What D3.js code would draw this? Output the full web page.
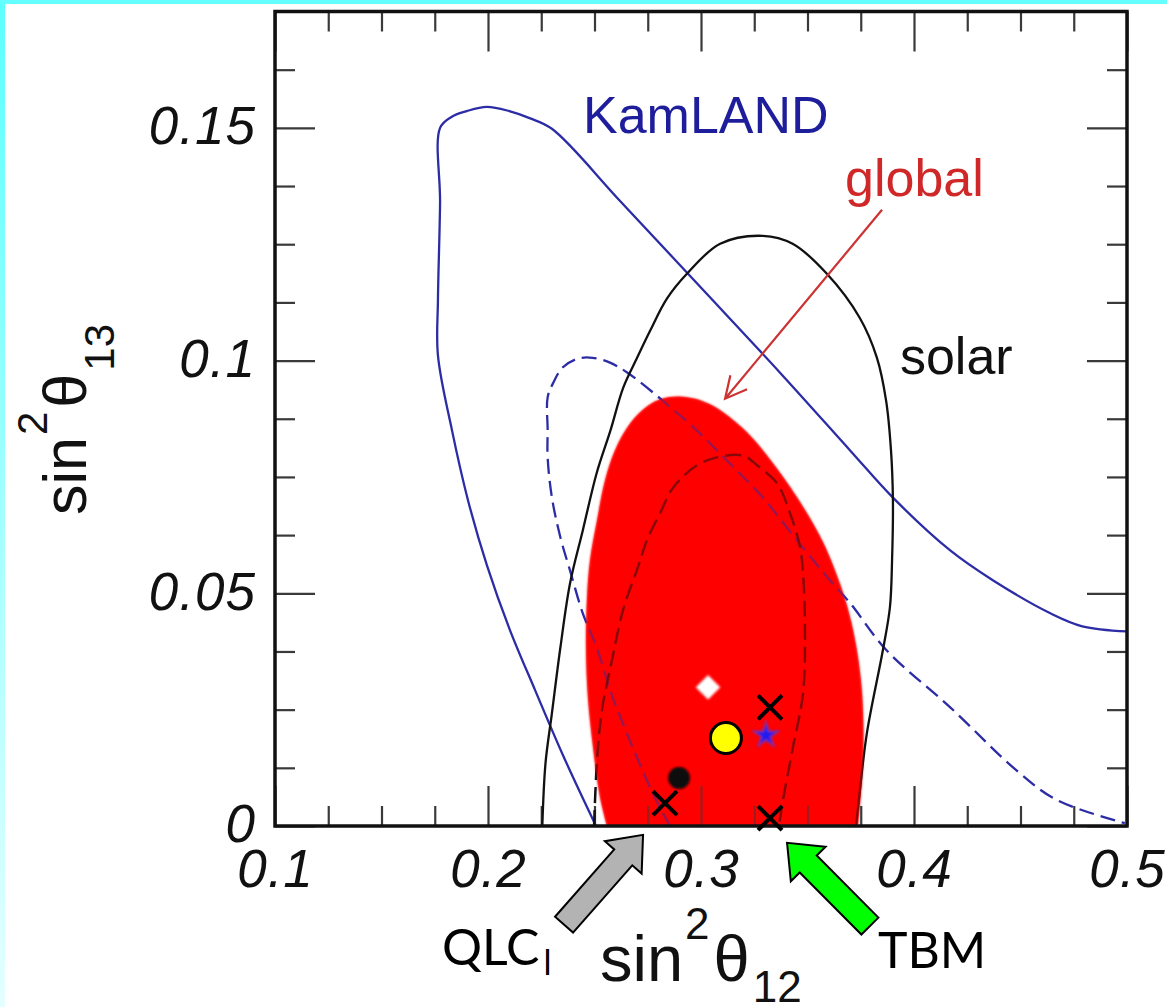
<!DOCTYPE html>
<html>
<head>
<meta charset="utf-8">
<script src="https://cdn.jsdelivr.net/npm/d3@7"></script>
<style>
  html, body { margin: 0; padding: 0; background: #fff; }
  svg { display: block; }
</style>
</head>
<body>
<div id="chart"></div>
<script>
// ---- axis ticks ----
const xMajor = [0.1, 0.2, 0.3, 0.4, 0.5];
const xMinor = [0.125, 0.15, 0.175, 0.225, 0.25, 0.275, 0.325, 0.35, 0.375, 0.425, 0.45, 0.475];
const yMajor = [0, 0.05, 0.1, 0.15];
const yMinor = [0.0125, 0.025, 0.0375, 0.0625, 0.075, 0.0875, 0.1125, 0.125, 0.1375, 0.1625];

// ---- contours [sin2 th12, sin2 th13] ----
const kamlandSolid = [[0.2507, 0], [0.2352, 0.0152], [0.2221, 0.0292], [0.2103, 0.0421], [0.1995, 0.056],
  [0.1906, 0.07], [0.1831, 0.085], [0.1765, 0.1011], [0.1765, 0.113], [0.1775, 0.134],
  [0.1775, 0.150], [0.183, 0.1524], [0.190, 0.1536], [0.1995, 0.1545], [0.210, 0.1536], [0.2195, 0.1521],
  [0.230, 0.1498], [0.262, 0.1343], [0.2995, 0.1159], [0.3371, 0.0974], [0.370, 0.0807],
  [0.390, 0.0706], [0.417, 0.0592], [0.437, 0.0528], [0.464, 0.0457], [0.479, 0.0429], [0.5, 0.0418]];

const kamlandDashed = [[0.2855, 0], [0.282, 0.0028], [0.2745, 0.0099], [0.2665, 0.0185], [0.2585, 0.0277],
  [0.251, 0.0384], [0.2445, 0.0457], [0.2385, 0.0549], [0.234, 0.062], [0.230, 0.0706], [0.228, 0.0792],
  [0.228, 0.085], [0.228, 0.0921], [0.2305, 0.0951], [0.235, 0.0985], [0.242, 0.1004], [0.249, 0.1006],
  [0.257, 0.0996], [0.2655, 0.0974], [0.282, 0.0914], [0.298, 0.085], [0.3135, 0.0779], [0.329, 0.0706],
  [0.345, 0.0614], [0.3605, 0.0528], [0.370, 0.0479], [0.387, 0.0378], [0.417, 0.0255], [0.448, 0.012],
  [0.467, 0.0056], [0.499, 0.0006]];

const solarSolid = [[0.2255, 0], [0.227, 0.0135], [0.230, 0.0242], [0.234, 0.0384], [0.2385, 0.0521],
  [0.2445, 0.0635], [0.251, 0.0758], [0.2575, 0.085], [0.2635, 0.0942], [0.270, 0.1006], [0.2761, 0.1064],
  [0.284, 0.1133], [0.2935, 0.1187], [0.309, 0.1251], [0.329, 0.1268], [0.343, 0.1251], [0.359, 0.1187],
  [0.3745, 0.1092], [0.3826, 0.1006], [0.3869, 0.0914], [0.3892, 0.0807], [0.3901, 0.07], [0.3897, 0.0571],
  [0.3887, 0.047], [0.3854, 0.0378], [0.3779, 0.02], [0.3746, 0.0077], [0.3728, 0]];

const solarDashed = [[0.2498, 0], [0.2512, 0.0142], [0.2535, 0.0249], [0.2582, 0.0356], [0.2634, 0.0464],
  [0.2704, 0.0556], [0.2746, 0.0614], [0.2808, 0.0672], [0.2869, 0.0727], [0.2981, 0.0775], [0.3075, 0.0792],
  [0.3197, 0.0796], [0.3263, 0.0775], [0.3357, 0.0736], [0.3418, 0.0672], [0.3465, 0.0599], [0.3479, 0.0543],
  [0.3488, 0.0427], [0.3479, 0.0285], [0.3432, 0.017], [0.3385, 0.0056], [0.3366, 0]];

const globalRegion = [[0.2559, 0], [0.2526, 0.0062], [0.2493, 0.017], [0.2469, 0.0277], [0.246, 0.0384],
  [0.2465, 0.0491], [0.2479, 0.0571], [0.2512, 0.0657], [0.2549, 0.0742], [0.2596, 0.0807], [0.2667, 0.0865],
  [0.2751, 0.0903], [0.2817, 0.0918], [0.2892, 0.0923], [0.2972, 0.0918], [0.3042, 0.0906], [0.3113, 0.0886],
  [0.3197, 0.0854], [0.3291, 0.0807], [0.3451, 0.0706], [0.3568, 0.0614], [0.3629, 0.0549], [0.3685, 0.0474],
  [0.3728, 0.0388], [0.3756, 0.0285], [0.3761, 0.0142], [0.3737, 0]];

// ---- markers ----
const diamondPoint = [0.3033, 0.0298];
const yellowPoint = [0.3117, 0.0189];
const starPoint = [0.3305, 0.0195];
const dotPoint = [0.2897, 0.0103];
const crossPoints = [[0.3324, 0.0255], [0.2831, 0.0049], [0.3324, 0.0017]];

// ---- annotations ----
const globalArrow = { tail: [0.385, 0.1324], tip: [0.3113, 0.0918] };
const qlcArrow = { tail: [0.2357, -0.0212], tip: [0.2728, -0.0019] };
const tbmArrow = { tail: [0.3793, -0.0215], tip: [0.3404, -0.0036] };
const curveLabels = [
    { text: 'KamLAND', pos: [0.2446, 0.1489], color: '#1e1e9c' },
    { text: 'global', pos: [0.3676, 0.1354], color: '#d02828' },
    { text: 'solar', pos: [0.3934, 0.0972], color: '#111' }
];

const size = { width: 1167, height: 1007 };
const plot = { left: 275, right: 1127, top: 11.5, bottom: 826 };

const x = d3.scaleLinear().domain([0.1, 0.5]).range([plot.left, plot.right]);
const y = d3.scaleLinear().domain([0, 0.175]).range([plot.bottom, plot.top]);

const svg = d3.select('#chart').append('svg')
    .attr('width', size.width)
    .attr('height', size.height);

const defs = svg.append('defs');
const grad = defs.append('linearGradient').attr('id', 'edgeGrad')
    .attr('x1', 0).attr('y1', 0).attr('x2', 0).attr('y2', 1);
grad.append('stop').attr('offset', '0%').attr('stop-color', '#5cffff');
grad.append('stop').attr('offset', '100%').attr('stop-color', '#e4ffff');
defs.append('clipPath').attr('id', 'plotClip')
    .append('rect')
    .attr('x', plot.left).attr('y', plot.top)
    .attr('width', plot.right - plot.left).attr('height', plot.bottom - plot.top);
defs.append('filter').attr('id', 'soft')
    .append('feGaussianBlur').attr('stdDeviation', 1);

// background + cyan border strips
svg.append('rect').attr('width', size.width).attr('height', size.height).attr('fill', '#fff');
svg.append('rect').attr('x', 0).attr('y', 0).attr('width', 5).attr('height', size.height).attr('fill', 'url(#edgeGrad)');
svg.append('rect').attr('x', 0).attr('y', 0).attr('width', size.width).attr('height', 4).attr('fill', '#66ffff');

const line = d3.line()
    .x(d => x(d[0]))
    .y(d => y(d[1]))
    .curve(d3.curveCatmullRom.alpha(0.5));

const inner = svg.append('g').attr('clip-path', 'url(#plotClip)');

// global allowed region (red)
inner.append('path')
    .attr('d', line(globalRegion) + 'Z')
    .attr('fill', '#ff0000')
    .attr('filter', 'url(#soft)');

// ticks (drawn before the red overlay so they show dark red inside it)
function tickAxis(axis, transform, values, len) {
    const g = svg.append('g')
        .attr('transform', transform)
        .call(axis.tickValues(values).tickSizeInner(-len).tickSizeOuter(0).tickFormat(''));
    g.select('.domain').remove();
    g.selectAll('.tick line').attr('stroke', '#3a3a3a').attr('stroke-width', 2.2);
    return g;
}
tickAxis(d3.axisBottom(x), `translate(0,${plot.bottom})`, xMinor, 20);
tickAxis(d3.axisBottom(x), `translate(0,${plot.bottom})`, xMajor, 40);
tickAxis(d3.axisTop(x), `translate(0,${plot.top})`, xMinor, 20);
tickAxis(d3.axisTop(x), `translate(0,${plot.top})`, xMajor, 40);
tickAxis(d3.axisLeft(y), `translate(${plot.left},0)`, yMinor, 20);
tickAxis(d3.axisLeft(y), `translate(${plot.left},0)`, yMajor, 40);
tickAxis(d3.axisRight(y), `translate(${plot.right},0)`, yMinor, 20);
tickAxis(d3.axisRight(y), `translate(${plot.right},0)`, yMajor, 40);

// contours
const curves = svg.append('g').attr('clip-path', 'url(#plotClip)').attr('fill', 'none');
curves.append('path').attr('d', line(kamlandSolid))
    .attr('stroke', '#2c2ca6').attr('stroke-width', 2.3);
curves.append('path').attr('d', line(kamlandDashed))
    .attr('stroke', '#2c2ca6').attr('stroke-width', 2.3).attr('stroke-dasharray', '15,7');
curves.append('path').attr('d', line(solarSolid))
    .attr('stroke', '#111').attr('stroke-width', 2.3);
curves.append('path').attr('d', line(solarDashed))
    .attr('stroke', '#111').attr('stroke-width', 2.5).attr('stroke-dasharray', '16,7');

// translucent red on top: lines under it turn dark red / purple
svg.append('path')
    .attr('clip-path', 'url(#plotClip)')
    .attr('d', line(globalRegion) + 'Z')
    .attr('fill', '#ff0000')
    .attr('fill-opacity', 0.5);

// frame
svg.append('rect')
    .attr('x', plot.left).attr('y', plot.top)
    .attr('width', plot.right - plot.left).attr('height', plot.bottom - plot.top)
    .attr('fill', 'none').attr('stroke', '#111').attr('stroke-width', 3.5);

// tick labels
const labelFont = "'Liberation Sans', Arial, sans-serif";
const xLab = svg.append('g').attr('transform', `translate(0,${plot.bottom})`)
    .call(d3.axisBottom(x).tickValues(xMajor).tickSize(0).tickPadding(23).tickFormat(d => String(d)));
xLab.select('.domain').remove();
const yLab = svg.append('g').attr('transform', `translate(${plot.left},0)`)
    .call(d3.axisLeft(y).tickValues(yMajor).tickSize(0).tickPadding(19).tickFormat(d => String(d)));
yLab.select('.domain').remove();
yLab.selectAll('.tick text').attr('dy', '0.3em');
svg.selectAll('.tick text')
    .attr('fill', '#111')
    .style('font-family', labelFont)
    .style('font-style', 'italic')
    .style('font-size', '53px')
    .style('letter-spacing', '1px');

// axis titles: sin^2 theta_ij
function mathTitle(g, sub, big, small, subDrop) {
    const t = g.append('text')
        .style('font-family', labelFont)
        .style('font-size', big + 'px')
        .attr('fill', '#111');
    t.append('tspan').text('sin');
    t.append('tspan').attr('dx', 2).attr('dy', -0.64 * big).style('font-size', small + 'px').text('2');
    t.append('tspan').attr('dx', 4).attr('dy', 0.64 * big).text('θ');
    t.append('tspan').attr('dx', 3).attr('dy', subDrop).style('font-size', small + 'px').text(sub);
    return t;
}
mathTitle(svg.append('g').attr('transform', 'translate(600,981)'), '12', 65, 44, 21);
mathTitle(svg.append('g').attr('transform', 'translate(86,515) rotate(-90)'), '13', 61, 42, 28);

// curve labels
svg.selectAll('.curve-label')
    .data(curveLabels)
    .join('text')
    .attr('class', 'curve-label')
    .attr('x', d => x(d.pos[0]))
    .attr('y', d => y(d.pos[1]))
    .attr('fill', d => d.color)
    .style('font-family', labelFont)
    .style('font-size', '52px')
    .text(d => d.text);

// open arrow pointing at the global region
function px(p) { return [x(p[0]), y(p[1])]; }
const ga0 = px(globalArrow.tail), ga1 = px(globalArrow.tip);
const gAng = Math.atan2(ga0[1] - ga1[1], ga0[0] - ga1[0]);
const wing = a => [ga1[0] + 24 * Math.cos(gAng + a), ga1[1] + 24 * Math.sin(gAng + a)];
svg.append('path')
    .attr('d', `M${ga0}L${ga1}M${wing(0.47)}L${ga1}L${wing(-0.47)}`)
    .attr('fill', 'none').attr('stroke', '#cc3333').attr('stroke-width', 2.2);

// block arrows below the axis
function blockArrow(p0, p1, shaftW, headW, headL) {
    const dx = p1[0] - p0[0], dy = p1[1] - p0[1], len = Math.hypot(dx, dy);
    const ux = dx / len, uy = dy / len, nx = -uy, ny = ux;
    const bx = p1[0] - ux * headL, by = p1[1] - uy * headL;
    const pts = [
        [p0[0] + nx * shaftW / 2, p0[1] + ny * shaftW / 2],
        [bx + nx * shaftW / 2, by + ny * shaftW / 2],
        [bx + nx * headW / 2, by + ny * headW / 2],
        p1,
        [bx - nx * headW / 2, by - ny * headW / 2],
        [bx - nx * shaftW / 2, by - ny * shaftW / 2],
        [p0[0] - nx * shaftW / 2, p0[1] - ny * shaftW / 2]
    ];
    return 'M' + pts.join('L') + 'Z';
}
svg.append('path')
    .attr('d', blockArrow(px(qlcArrow.tail), px(qlcArrow.tip), 24, 49, 30))
    .attr('fill', '#b3b3b3').attr('stroke', '#000').attr('stroke-width', 2);
svg.append('path')
    .attr('d', blockArrow(px(tbmArrow.tail), px(tbmArrow.tip), 24, 49, 30))
    .attr('fill', '#00ff00').attr('stroke', '#000').attr('stroke-width', 2);

const handFont = "'Comic Sans MS', Lato, sans-serif";
const qlc = svg.append('text')
    .attr('x', 442).attr('y', 965)
    .attr('fill', '#000')
    .style('font-family', handFont)
    .style('font-size', '50px')
    .text('QLC');
qlc.append('tspan').attr('dx', 4).attr('dy', 10).style('font-size', '34px').text('l');
svg.append('text')
    .attr('x', 878).attr('y', 968)
    .attr('fill', '#000')
    .style('font-family', handFont)
    .style('font-size', '50px')
    .text('TBM');

// markers
const mk = svg.append('g');
mk.append('path')
    .attr('d', d3.symbol(d3.symbolSquare, 300)())
    .attr('transform', `translate(${px(diamondPoint)}) rotate(45)`)
    .attr('fill', '#fff').attr('filter', 'url(#soft)');
mk.append('circle')
    .attr('cx', x(dotPoint[0])).attr('cy', y(dotPoint[1])).attr('r', 11)
    .attr('fill', '#0a0a0a').attr('filter', 'url(#soft)');
mk.append('path')
    .attr('d', d3.symbol(d3.symbolStar, 190)())
    .attr('transform', `translate(${px(starPoint)})`)
    .attr('fill', '#1c1cf0').attr('stroke', '#8a2a9a').attr('stroke-width', 2)
    .attr('filter', 'url(#soft)');
mk.append('circle')
    .attr('cx', x(yellowPoint[0])).attr('cy', y(yellowPoint[1])).attr('r', 15.5)
    .attr('fill', '#ffff00').attr('stroke', '#000').attr('stroke-width', 3);
mk.selectAll('.cross')
    .data(crossPoints)
    .join('path')
    .attr('class', 'cross')
    .attr('transform', d => `translate(${px(d)})`)
    .attr('d', 'M-12,-12L12,12M-12,12L12,-12')
    .attr('stroke', '#000').attr('stroke-width', 4);
</script>
</body>
</html>
